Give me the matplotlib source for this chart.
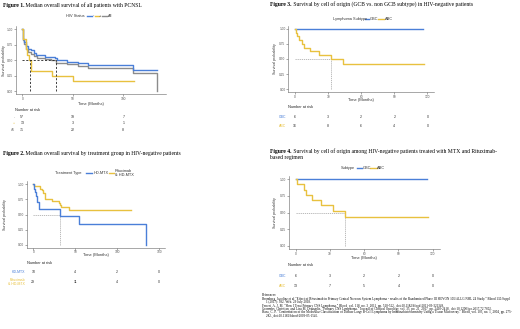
import matplotlib
matplotlib.use("Agg")
import matplotlib.pyplot as plt
import matplotlib.transforms as mtransforms
from matplotlib.lines import Line2D

W, H = 520, 329
BLUE = "#4a7fd8"
YELLOW = "#e8c13f"
GREY = "#8c8c8c"
SANS = "Liberation Sans"
SERIF = "Liberation Serif"

# ---- Figure 1: overall survival by HIV status ----
hiv_neg_t = [0, 1, 2, 4, 6, 9, 12, 14, 22, 32, 34, 44, 55, 65, 110, 133]
hiv_neg_s = [1.0, 0.84, 0.79, 0.73, 0.69, 0.66, 0.62, 0.58, 0.56, 0.53, 0.50, 0.48, 0.46, 0.42, 0.34, 0.34]
hiv_pos_t = [0, 1, 3.5, 5, 7, 9, 29, 50, 111]
hiv_pos_s = [1.0, 0.85, 0.69, 0.58, 0.50, 0.33, 0.25, 0.17, 0.17]
all_t = [0, 1, 2, 4, 6, 9, 12, 15, 22, 28, 33, 44, 55, 65, 110, 133]
all_s = [1.0, 0.82, 0.76, 0.69, 0.64, 0.60, 0.57, 0.54, 0.52, 0.50, 0.46, 0.44, 0.41, 0.37, 0.30, 0.0]
median1_t = [8, 33]
risk1_times = [0, 50, 100]
risk1_labels = ["-", "+", "All"]
risk1_counts = [[57, 19, 7], [13, 3, 1], [71, 22, 8]]

# ---- Figure 2: treatment group, HIV-negative ----
mtx_t = [0, 1, 2, 3, 4, 7, 32, 55, 135]
mtx_s = [1.0, 0.93, 0.87, 0.80, 0.70, 0.59, 0.47, 0.35, 0.0]
ritux_t = [0, 1, 8, 10, 12, 14, 22, 31, 32, 33, 43, 117]
ritux_s = [1.0, 0.97, 0.93, 0.90, 0.86, 0.76, 0.72, 0.69, 0.66, 0.62, 0.58, 0.58]
median2_t = 32
risk2_times = [0, 50, 100, 150]
risk2_labels = ["HD-MTX", "Rituximab\n& HD-MTX"]
risk2_counts = [[10, 4, 2, 0], [29, 11, 4, 0]]

# ---- Figure 3: cell of origin, HIV-negative ----
gbc3_t = [0, 116]
gbc3_s = [1.0, 1.0]
abc3_t = [0, 1, 2, 3.6, 6, 8.5, 13.7, 22, 32.5, 43.5, 117]
abc3_s = [1.0, 0.9375, 0.875, 0.8125, 0.75, 0.6875, 0.625, 0.5625, 0.50, 0.42, 0.42]
median3_t = 32.5
risk34_times = [0, 30, 60, 90, 120]
risk3_counts = [[6, 3, 2, 2, 0], [16, 8, 6, 4, 0]]

# ---- Figure 4: cell of origin, MTX + Rituximab ----
gbc4_t = [0, 115]
gbc4_s = [1.0, 1.0]
abc4_t = [0, 1, 7.6, 9, 14, 22, 33, 43.5, 116]
abc4_s = [1.0, 0.923, 0.846, 0.769, 0.692, 0.615, 0.53, 0.44, 0.44]
median4_t = 43.5
risk4_counts = [[6, 3, 2, 2, 0], [13, 7, 5, 4, 0]]

subtype_labels = ["GBC", "ABC"]

references = [
    ("References:", 0),
    ('Bromberg, Jacoline et al "Effect of Rituximab in Primary Central Nervous System Lymphoma - results of the Randomized Phase III HOVON 105/ALLG NHL 24 Study." Blood 130.Suppl', 0),
    ("1 (2017): 582. Web. 29 July 2018.", 1),
    ('Ferreri, A. J. M. "How I Treat Primary CNS Lymphoma." Blood, vol. 118, no. 3, 2011, pp. 510-522., doi:10.1182/blood-2011-03-321349.', 0),
    ('Grommes, Christian, and Lisa M. Deangelis. "Primary CNS Lymphoma." Journal of Clinical Oncology, vol. 35, no. 21, 2017, pp. 2410-2418., doi:10.1200/jco.2017.72.7602.', 0),
    ('Hans, C. P. "Confirmation of the Molecular Classification of Diffuse Large B-Cell Lymphoma by Immunohistochemistry Using a Tissue Microarray." Blood, vol. 103, no. 1, 2004, pp. 275-', 0),
    ("282., doi:10.1182/blood-2003-05-1545.", 1),
]

fig = plt.figure(figsize=(W / 100, H / 100), dpi=100)
fig.patch.set_facecolor("white")


def fy(y):
    return 1 - y / H


def add_axes(x0, y0, x1, y1):
    return fig.add_axes([x0 / W, 1 - y1 / H, (x1 - x0) / W, (y1 - y0) / H])


def style(ax, xlim, xticks):
    ax.set_xlim(xlim)
    ax.set_ylim(-0.05, 1.05)
    ax.set_xticks(xticks)
    ax.set_yticks([0, 0.25, 0.5, 0.75, 1.0])
    ax.set_yticklabels(["0.00", "0.25", "0.50", "0.75", "1.00"])
    for s in ["top", "right"]:
        ax.spines[s].set_visible(False)
    for s in ["left", "bottom"]:
        ax.spines[s].set_color("#666666")
        ax.spines[s].set_linewidth(0.4)
    ax.tick_params(labelsize=2.3, length=1.2, width=0.4, pad=0.8,
                   color="#666666", labelcolor="#555555")
    for lab in ax.get_xticklabels() + ax.get_yticklabels():
        lab.set_family(SANS)
    ax.patch.set_alpha(0)


def title(x, y, bold, rest):
    t = fig.text(x / W, fy(y), bold, family=SERIF, weight="bold", size=4.1, va="center")
    r = fig.canvas.get_renderer()
    bb = t.get_window_extent(r)
    fig.text(bb.x1 / W, fy(y), " " + rest, family=SERIF, size=4.1, va="center")


def legend(y, title_x, items):
    fig.text(title_x / W, fy(y), items[0], family=SANS, size=2.8, va="center", color="#333333")
    for lx0, lx1, tx, label, color in items[1:]:
        fig.add_artist(Line2D([lx0 / W, lx1 / W], [fy(y), fy(y)], color=color, lw=1.0))
        fig.text(tx / W, fy(y), label, family=SANS, size=2.8, va="center",
                 color="#333333", linespacing=1.0)


def risk_table(ax, times, header_xy, rows):
    tr = mtransforms.blended_transform_factory(ax.transData, fig.transFigure)
    fig.text(header_xy[0] / W, fy(header_xy[1]), "Number at risk", family=SANS,
             size=2.8, va="center", color="#222222")
    for label, label_x, y, color, counts in rows:
        fig.text(label_x / W, fy(y), label, family=SANS, size=2.5, va="center",
                 ha="right", color=color, linespacing=1.0)
        for t, n in zip(times, counts):
            ax.text(t, fy(y), str(n), transform=tr, family=SANS, size=2.6,
                    ha="center", va="center", color="#333333", clip_on=False)


def ylabel(x, ax):
    pos = ax.get_position()
    fig.text(x / W, (pos.y0 + pos.y1) / 2, "Survival probability", family=SANS,
             size=2.6, rotation=90, va="center", ha="center", color="#333333")


def xlabel(y, ax):
    pos = ax.get_position()
    fig.text((pos.x0 + pos.x1) / 2, fy(y), "Time (Months)", family=SANS,
             size=2.9, va="center", ha="center", color="#333333")


# ---------------- Figure 1 ----------------
title(3, 5, "Figure 1.", "Median overall survival of all patients with PCNSL")
ax1 = add_axes(15.5, 26.2, 165.5, 94.4)
style(ax1, (-6.75, 141.75), [0, 50, 100])
ax1.step(all_t, all_s, where="post", color=GREY, lw=1.0)
ax1.step(hiv_neg_t, hiv_neg_s, where="post", color=BLUE, lw=1.0)
ax1.step(hiv_pos_t, hiv_pos_s, where="post", color=YELLOW, lw=1.0)
ax1.plot([0, median1_t[1]], [0.5, 0.5], color="#222222", ls=(0, (2.5, 2)), lw=0.6)
for m in median1_t:
    ax1.plot([m, m], [0, 0.5], color="#222222", ls=(0, (2.5, 2)), lw=0.6)
legend(15.7, 65.7, ["HIV Status",
                    (87, 92, 93, "-", BLUE),
                    (95, 98.5, 99.3, "+", YELLOW),
                    (102, 107, 108, "All", GREY)])
ylabel(4, ax1)
xlabel(103.5, ax1)
risk_table(ax1, risk1_times, (15, 110), [
    (risk1_labels[0], 14.5, 117.3, GREY, risk1_counts[0]),
    (risk1_labels[1], 14.5, 123.5, YELLOW, risk1_counts[1]),
    (risk1_labels[2], 15, 130, GREY, risk1_counts[2]),
])

# ---------------- Figure 2 ----------------
title(3, 154, "Figure 2.", "Median overall survival by treatment group in HIV-negative patients")
ax2 = add_axes(27, 181.3, 165.3, 247.7)
style(ax2, (-7.5, 157.5), [0, 50, 100, 150])
ax2.plot([0, median2_t], [0.5, 0.5], color="#b0b0b0", ls=(0, (1.5, 1)), lw=0.6)
ax2.plot([median2_t, median2_t], [0, 0.5], color="#b0b0b0", ls=(0, (1.5, 1)), lw=0.6)
ax2.step(ritux_t, ritux_s, where="post", color=YELLOW, lw=1.0)
ax2.step(mtx_t, mtx_s, where="post", color=BLUE, lw=1.0)
legend(173.3, 55, ["Treatment Type",
                   (86, 92.3, 93.3, "HD-MTX", BLUE),
                   (109.3, 114.3, 115, "Rituximab\n& HD-MTX", YELLOW)])
ylabel(5, ax2)
xlabel(255, ax2)
risk_table(ax2, risk2_times, (27, 263), [
    (risk2_labels[0], 25, 272.3, BLUE, risk2_counts[0]),
    (risk2_labels[1], 25, 282.3, YELLOW, risk2_counts[1]),
])

# ---------------- Figure 3 ----------------
title(270, 4.5, "Figure 3.", "Survival by cell of origin (GCB vs. non GCB subtype) in HIV-negative patients")
ax3 = add_axes(288.4, 25.8, 434.1, 92.2)
style(ax3, (-6, 126), [0, 30, 60, 90, 120])
ax3.plot([0, median3_t], [0.5, 0.5], color="#b0b0b0", ls=(0, (1.5, 1)), lw=0.6)
ax3.plot([median3_t, median3_t], [0, 0.5], color="#b0b0b0", ls=(0, (1.5, 1)), lw=0.6)
ax3.step(gbc3_t, gbc3_s, where="post", color=BLUE, lw=1.0)
ax3.step(abc3_t, abc3_s, where="post", color=YELLOW, lw=1.0)
legend(19, 333.3, ["Lymphoma Subtype",
                   (365, 369.3, 370, subtype_labels[0], BLUE),
                   (377.7, 384, 385, subtype_labels[1], YELLOW)])
ylabel(275, ax3)
xlabel(99.5, ax3)
risk_table(ax3, risk34_times, (288, 107), [
    (subtype_labels[0], 286, 116.7, BLUE, risk3_counts[0]),
    (subtype_labels[1], 286, 126, YELLOW, risk3_counts[1]),
])

# ---------------- Figure 4 ----------------
title(270, 151, "Figure 4.", "Survival by cell of origin among HIV-negative patients treated with MTX and Rituximab-")
fig.text(270 / W, fy(158), "based regimen", family=SERIF, size=4.1, va="center")
ax4 = add_axes(288.8, 176, 439.6, 249.3)
style(ax4, (-6, 126), [0, 30, 60, 90, 120])
ax4.plot([0, median4_t], [0.5, 0.5], color="#b0b0b0", ls=(0, (1.5, 1)), lw=0.6)
ax4.plot([median4_t, median4_t], [0, 0.5], color="#b0b0b0", ls=(0, (1.5, 1)), lw=0.6)
ax4.step(gbc4_t, gbc4_s, where="post", color=BLUE, lw=1.0)
ax4.step(abc4_t, abc4_s, where="post", color=YELLOW, lw=1.0)
legend(167.7, 340.7, ["Subtype",
                      (356.7, 362, 362.7, subtype_labels[0], BLUE),
                      (370, 376.7, 377.3, subtype_labels[1], YELLOW)])
ylabel(275, ax4)
xlabel(258, ax4)
risk_table(ax4, risk34_times, (288, 265), [
    (subtype_labels[0], 286, 275.7, BLUE, risk4_counts[0]),
    (subtype_labels[1], 286, 286.3, YELLOW, risk4_counts[1]),
])

# ---------------- references ----------------
y = 295.5
for line, indent in references:
    fig.text((262 + indent * 4) / W, fy(y), line, family=SERIF, size=2.3, va="center")
    y += 3.3 if indent == 0 else 3.6

fig.savefig("out.png", dpi=100)
